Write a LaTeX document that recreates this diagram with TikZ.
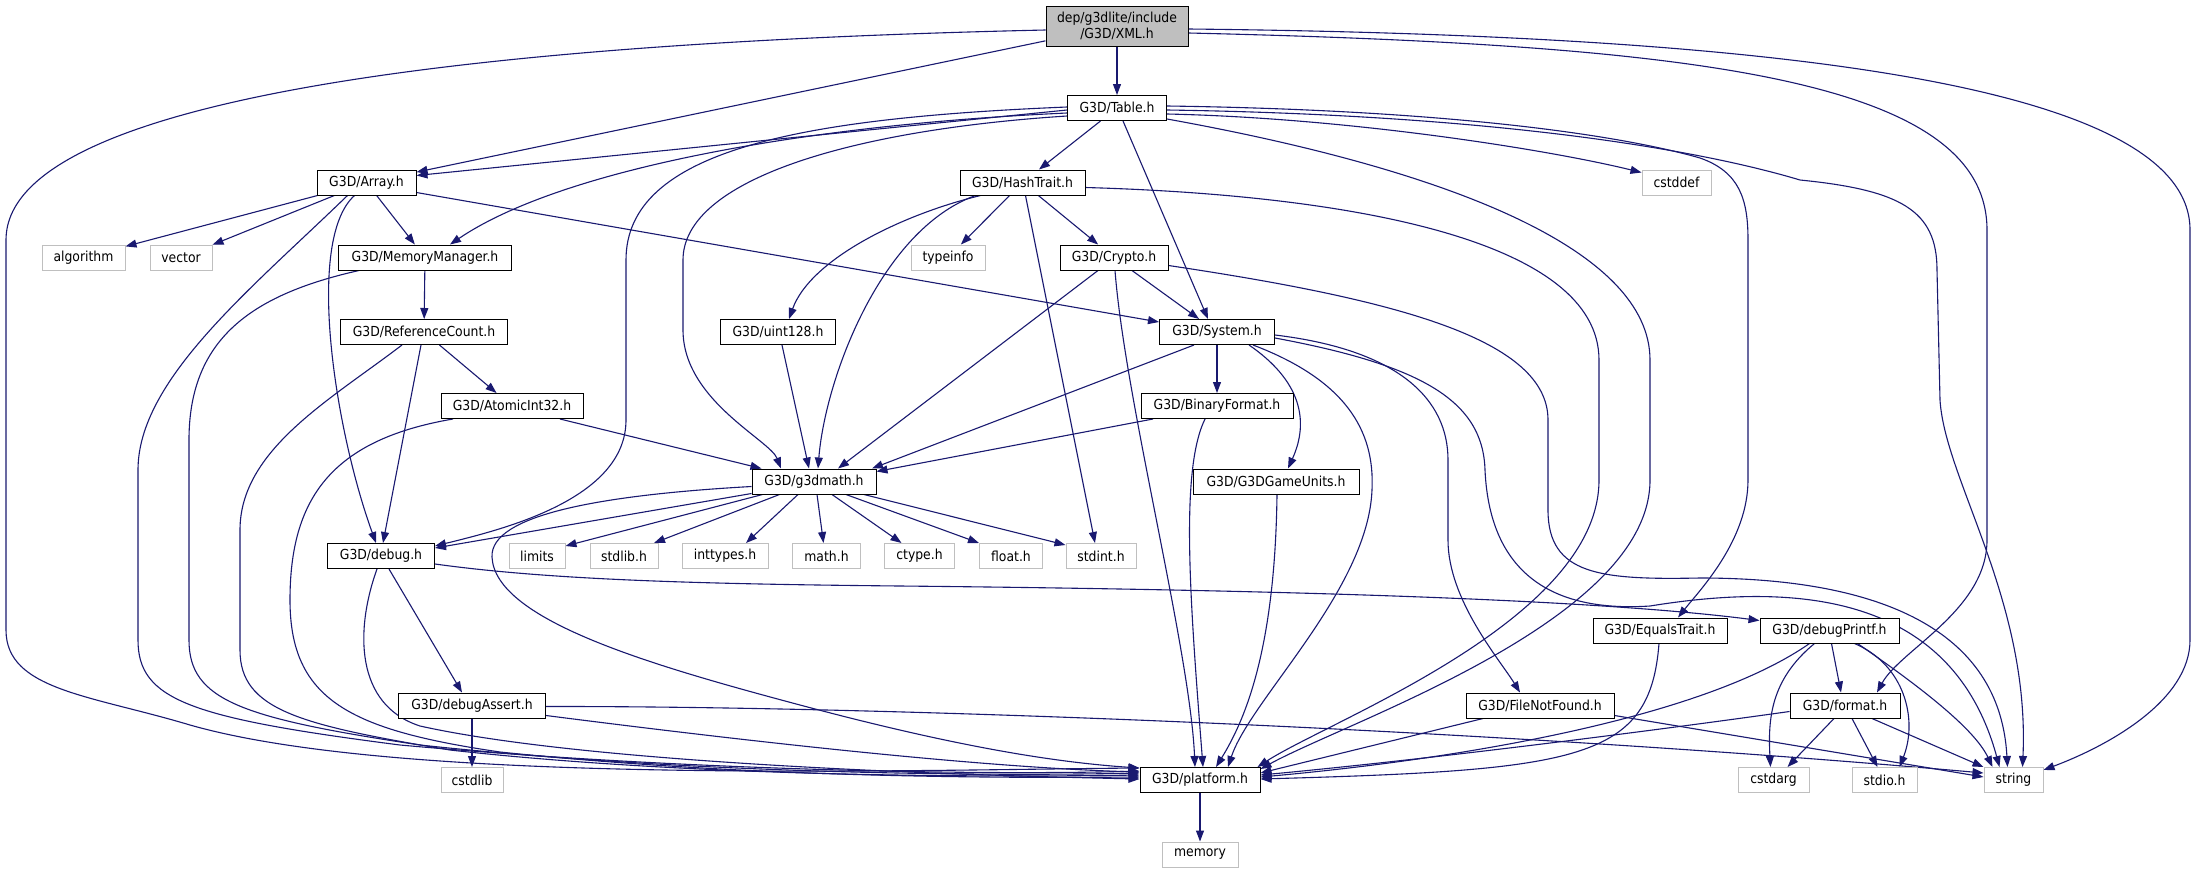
\documentclass[tikz,border=0pt]{standalone}
\usepackage{fontspec}
\setmainfont{DejaVu Sans Condensed}
\usetikzlibrary{arrows.meta,backgrounds}
\definecolor{eblue}{HTML}{191970}
\definecolor{egray}{HTML}{BFBFBF}
\begin{document}
\begin{tikzpicture}[x=1pt,y=-1pt,
  box/.style={draw=black,fill=white,line width=1pt,minimum height=25pt,inner sep=0pt,font=\fontsize{13.8}{15.5}\selectfont},
  ext/.style={box,draw=egray},
  e/.style={draw=eblue,line width=1.1pt,-{Triangle[length=11pt,width=8pt]},fill=none}]
\useasboundingbox (0,0) rectangle (2196,873);
% nodes
\node[box,fill=egray,minimum width=142pt,minimum height=40pt,align=center] (xml) at (1117,26) {dep/g3dlite/include\\/G3D/XML.h};
\node[box,minimum width=99pt] (table) at (1117,108) {G3D/Table.h};
\node[box,minimum width=99pt] (array) at (366.5,182.5) {G3D/Array.h};
\node[box,minimum width=125pt] (hash) at (1022.5,182.5) {G3D/HashTrait.h};
\node[ext,minimum width=69pt] (cstddef) at (1676.5,182.5) {cstddef};
\node[ext,minimum width=83pt] (algorithm) at (83.5,257.5) {algorithm};
\node[ext,minimum width=62pt] (vector) at (181,257.5) {vector};
\node[box,minimum width=173pt] (memmgr) at (425,257.5) {G3D/MemoryManager.h};
\node[ext,minimum width=74pt] (typeinfo) at (948,257.5) {typeinfo};
\node[box,minimum width=108pt] (crypto) at (1114,257.5) {G3D/Crypto.h};
\node[box,minimum width=167pt] (refcount) at (424,332) {G3D/ReferenceCount.h};
\node[box,minimum width=115pt] (uint128) at (778,332) {G3D/uint128.h};
\node[box,minimum width=115pt] (system) at (1217,332) {G3D/System.h};
\node[box,minimum width=142pt] (atomic) at (512,406) {G3D/AtomicInt32.h};
\node[box,minimum width=152pt] (binfmt) at (1217,406) {G3D/BinaryFormat.h};
\node[box,minimum width=124pt] (g3dmath) at (814,481.5) {G3D/g3dmath.h};
\node[box,minimum width=166pt] (gameunits) at (1276,481.5) {G3D/G3DGameUnits.h};
\node[box,minimum width=107pt] (debug) at (381,556) {G3D/debug.h};
\node[ext,minimum width=56pt] (limits) at (537,556) {limits};
\node[ext,minimum width=68pt] (stdlib) at (624,556) {stdlib.h};
\node[ext,minimum width=86pt] (inttypes) at (725,556) {inttypes.h};
\node[ext,minimum width=68pt] (math) at (826.5,556) {math.h};
\node[ext,minimum width=70pt] (ctype) at (919.5,556) {ctype.h};
\node[ext,minimum width=63pt] (float) at (1011,556) {float.h};
\node[ext,minimum width=70pt] (stdint) at (1101,556) {stdint.h};
\node[box,minimum width=134pt] (equals) at (1660,630.5) {G3D/EqualsTrait.h};
\node[box,minimum width=139pt] (dbgprintf) at (1829.5,630.5) {G3D/debugPrintf.h};
\node[box,minimum width=147pt] (dbgassert) at (472,705.5) {G3D/debugAssert.h};
\node[box,minimum width=148pt] (filenf) at (1540,705.5) {G3D/FileNotFound.h};
\node[box,minimum width=110pt] (format) at (1845,705.5) {G3D/format.h};
\node[ext,minimum width=62pt] (cstdlib) at (472,780) {cstdlib};
\node[box,minimum width=120pt] (platform) at (1200,780) {G3D/platform.h};
\node[ext,minimum width=71pt] (cstdarg) at (1773.5,780) {cstdarg};
\node[ext,minimum width=65pt] (stdio) at (1884.5,780) {stdio.h};
\node[ext,minimum width=59pt] (string) at (2013.5,780) {string};
\node[ext,minimum width=76pt] (memory) at (1200,854.5) {memory};
\begin{pgfonlayer}{background}
\fill[white] (0,0) rectangle (2196,873);
% XML.h
\draw[e] (xml) -- (table);
\draw[e] (xml) -- (array);
\draw[e] ([yshift=-4]xml.west) .. controls (600,40) and (6,80) .. (6,240) -- (6,630) .. controls (6,690) and (90,695) .. (190,725) .. controls (400,785) and (900,770) .. ([yshift=12]platform.west);
\draw[e] ([yshift=-7]xml.east) .. controls (1700,45) and (1987,80) .. (1987,230) -- (1987,540) .. controls (1987,610) and (1900,650) .. ([xshift=32]format.north);
\draw[e] ([yshift=-3]xml.east) .. controls (1750,35) and (2190,80) .. (2190,230) -- (2190,640) .. controls (2190,700) and (2110,745) .. ([yshift=10]string.east);
% Table.h
\draw[e] ([yshift=-2]table.west) -- ([yshift=-6]array.north east);
\draw[e] ([yshift=-5]table.west) .. controls (800,125) and (560,170) .. ([xshift=25]memmgr.north);
\draw[e] ([yshift=1]table.west) .. controls (800,118) and (626,150) .. (626,260) -- (626,420) .. controls (626,500) and (500,530) .. ([yshift=-3]debug.north east);
\draw[e] ([yshift=-8]table.west) .. controls (850,130) and (683,180) .. (683,260) -- (683,330) .. controls (683,400) and (770,440) .. ([xshift=-33]g3dmath.north);
\draw[e] (table) -- (hash);
\draw[e] ([xshift=6]table.south) -- ([xshift=-9]system.north);
\draw[e] ([yshift=2]table.south east) .. controls (1450,170) and (1650,250) .. (1650,360) -- (1650,480) .. controls (1650,620) and (1350,720) .. ([yshift=-2]platform.north east);
\draw[e] ([yshift=-6]table.east) .. controls (1350,118) and (1550,150) .. ([yshift=10]cstddef.west);
\draw[e] ([yshift=2]table.east) .. controls (1450,110) and (1620,135) .. (1700,158) .. controls (1740,172) and (1748,200) .. (1748,240) -- (1748,480) .. controls (1748,540) and (1700,590) .. ([xshift=18]equals.north);
\draw[e] ([yshift=-2]table.east) .. controls (1500,115) and (1700,150) .. (1800,180) .. controls (1900,190) and (1937,210) .. (1937,270) -- (1940,400) .. controls (1945,480) and (2030,600) .. ([xshift=9]string.north);
% HashTrait.h
\draw[e] ([xshift=-42]hash.south) .. controls (900,215) and (810,260) .. ([xshift=11]uint128.north);
\draw[e] ([xshift=-47]hash.south) .. controls (880,230) and (825,380) .. ([xshift=4]g3dmath.north);
\draw[e] (hash) -- (typeinfo);
\draw[e] (hash) -- (crypto);
\draw[e] ([xshift=3]hash.south) -- ([xshift=-6]stdint.north);
\draw[e] ([yshift=-5]hash.east) .. controls (1350,195) and (1599,240) .. (1599,360) -- (1599,480) .. controls (1599,620) and (1330,720) .. ([xshift=-3]platform.north east);
% Crypto.h
\draw[e] (crypto) -- (system);
\draw[e] ([xshift=-16]crypto.south) -- ([xshift=24]g3dmath.north);
\draw[e] ([xshift=1]crypto.south) .. controls (1125,400) and (1190,650) .. ([xshift=-5]platform.north);
\draw[e] ([yshift=-8]crypto.east) .. controls (1400,300) and (1548,340) .. (1548,420) -- (1548,510) .. controls (1548,575) and (1600,580) .. (1700,578) .. controls (1880,578) and (2000,630) .. ([xshift=-6]string.north);
% System.h
\draw[e] ([xshift=-23]system.south) -- ([xshift=58]g3dmath.north);
\draw[e] (system) -- (binfmt);
\draw[e] ([xshift=32]system.south) .. controls (1300,380) and (1310,420) .. ([xshift=12]gameunits.north);
\draw[e] ([xshift=36]system.south) .. controls (1345,380) and (1375,430) .. (1372,490) .. controls (1368,590) and (1250,700) .. ([xshift=28]platform.north);
\draw[e] ([yshift=-3]system.east) .. controls (1400,350) and (1448,400) .. (1448,460) -- (1448,540) .. controls (1448,600) and (1500,660) .. ([xshift=-20]filenf.north);
\draw[e] ([yshift=-6]system.east) .. controls (1420,365) and (1483,400) .. (1485,470) .. controls (1490,580) and (1560,612) .. (1650,606) .. controls (1780,585) and (1950,585) .. ([xshift=-14]string.north);
% BinaryFormat.h, G3DGameUnits.h, uint128.h
\draw[e] ([xshift=-64]binfmt.south) -- ([yshift=-3]g3dmath.north east);
\draw[e] ([xshift=-12]binfmt.south) .. controls (1180,470) and (1190,600) .. ([xshift=3]platform.north);
\draw[e] ([xshift=1]gameunits.south) .. controls (1275,650) and (1245,720) .. ([xshift=16]platform.north);
\draw[e] ([xshift=4]uint128.south) -- ([xshift=-5]g3dmath.north);
% Array.h
\draw[e] (array) -- (algorithm);
\draw[e] (array) -- (vector);
\draw[e] (array) -- (memmgr);
\draw[e] ([xshift=-12]array.south) .. controls (305,240) and (335,430) .. ([xshift=-5]debug.north);
\draw[e] ([xshift=-19]array.south) .. controls (250,290) and (138,380) .. (138,470) -- (138,640) .. controls (138,700) and (190,718) .. (400,745) .. controls (700,772) and (1000,775) .. ([yshift=9]platform.west);
\draw[e] ([yshift=-10]array.east) -- ([yshift=10]system.west);
% MemoryManager.h, ReferenceCount.h, AtomicInt32.h
\draw[e] (memmgr) -- (refcount);
\draw[e] ([xshift=-66]memmgr.south) .. controls (250,295) and (189,340) .. (189,440) -- (189,640) .. controls (189,700) and (240,718) .. (420,745) .. controls (700,775) and (1000,776) .. ([yshift=7]platform.west);
\draw[e] (refcount) -- (atomic);
\draw[e] ([xshift=-3]refcount.south) -- ([xshift=2]debug.north);
\draw[e] ([xshift=-22]refcount.south) .. controls (330,400) and (240,450) .. (240,530) -- (240,650) .. controls (240,710) and (300,725) .. (450,750) .. controls (700,778) and (1000,777) .. ([yshift=5]platform.west);
\draw[e] ([xshift=48]atomic.south) -- ([xshift=10]g3dmath.north west);
\draw[e] ([xshift=-59]atomic.south) .. controls (330,440) and (290,500) .. (290,600) .. controls (290,700) and (350,730) .. (500,752) .. controls (750,778) and (1000,778) .. ([yshift=3]platform.west);
% g3dmath.h
\draw[e] ([yshift=1]g3dmath.south west) -- ([yshift=8]debug.east);
\draw[e] ([xshift=11]g3dmath.south west) -- ([yshift=-3]limits.north east);
\draw[e] ([xshift=28]g3dmath.south west) -- ([xshift=30]stdlib.north);
\draw[e] ([xshift=-16]g3dmath.south) -- ([xshift=21]inttypes.north);
\draw[e] ([xshift=3]g3dmath.south) -- ([xshift=-3]math.north);
\draw[e] ([xshift=18]g3dmath.south) -- ([xshift=-18]ctype.north);
\draw[e] ([xshift=32]g3dmath.south) -- (float.north west);
\draw[e] ([xshift=50]g3dmath.south) -- ([yshift=-2]stdint.north west);
\draw[e] ([yshift=-5]g3dmath.west) .. controls (600,495) and (490,515) .. (492,557) .. controls (495,620) and (650,665) .. (800,705) .. controls (950,745) and (1050,762) .. ([yshift=-1]platform.north west);
% debug.h
\draw[e] ([xshift=8]debug.south) -- ([xshift=-10]dbgassert.north);
\draw[e] ([xshift=-4]debug.south) .. controls (355,630) and (355,705) .. (420,726) .. controls (600,766) and (1000,776) .. ([yshift=1]platform.west);
\draw[e] ([yshift=-8]debug.east) .. controls (550,580) and (700,584) .. (900,586) .. controls (1300,590) and (1600,600) .. ([yshift=10]dbgprintf.west);
% debugAssert.h
\draw[e] (dbgassert) -- (cstdlib);
\draw[e] ([yshift=-10]dbgassert.east) .. controls (800,748) and (1000,768) .. ([yshift=8]platform.west);
\draw[e] ([yshift=-1]dbgassert.east) .. controls (900,706) and (1500,730) .. ([yshift=7]string.west);
% FileNotFound.h, EqualsTrait.h
\draw[e] ([xshift=-57]filenf.south) -- ([yshift=7]platform.east);
\draw[e] ([yshift=-10]filenf.east) -- ([yshift=3]string.west);
\draw[e] ([xshift=-1]equals.south) .. controls (1650,760) and (1580,770) .. ([yshift=1]platform.east);
% debugPrintf.h
\draw[e] ([xshift=-20]dbgprintf.south) .. controls (1700,720) and (1450,760) .. ([yshift=3]platform.east);
\draw[e] ([xshift=-15]dbgprintf.south) .. controls (1770,680) and (1768,720) .. ([xshift=-3]cstdarg.north);
\draw[e] ([xshift=2]dbgprintf.south) -- ([xshift=-4]format.north);
\draw[e] ([xshift=25]dbgprintf.south) .. controls (1905,665) and (1918,720) .. ([xshift=15]stdio.north);
\draw[e] ([xshift=28]dbgprintf.south) .. controls (1925,690) and (1975,730) .. ([xshift=-21]string.north);
% format.h
\draw[e] ([yshift=-6]format.west) .. controls (1600,738) and (1400,762) .. ([yshift=5]platform.east);
\draw[e] ([xshift=-11]format.south) -- ([xshift=14]cstdarg.north);
\draw[e] ([xshift=7]format.south) -- ([xshift=-7]stdio.north);
\draw[e] ([xshift=27]format.south) -- (string.north west);
% platform.h
\draw[e] (platform) -- (memory);
\end{pgfonlayer}
\end{tikzpicture}
\end{document}
